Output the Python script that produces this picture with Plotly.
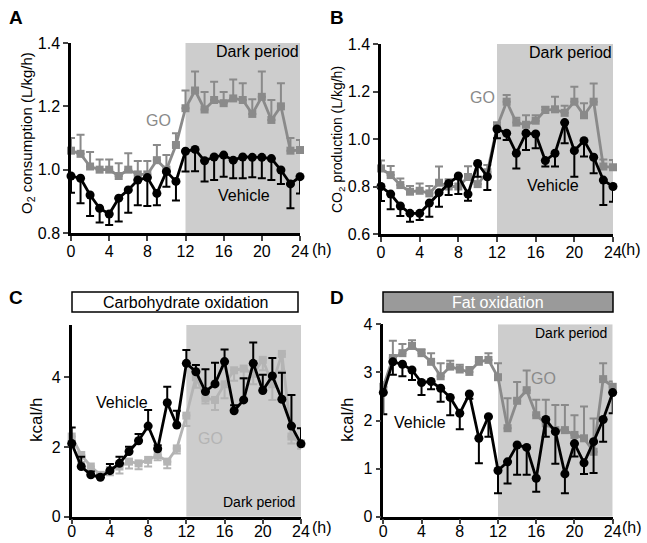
import plotly.graph_objects as go

hours = list(range(25))

# Panel A: O2 consumption
a_go = [1.06,1.05,1.01,1.00,1.00,0.98,1.00,0.985,0.985,1.03,1.00,1.078,1.194,1.25,1.19,1.22,1.21,1.225,1.22,1.176,1.23,1.157,1.20,1.06,1.062]
a_go_err = [0.04,0.06,0.046,0.032,0.032,0.04,0.052,0.042,0.042,0.048,0.046,0.037,0.056,0.06,0.055,0.058,0.035,0.06,0.053,0.046,0.08,0.063,0.073,0.04,0.032]
a_veh = [0.98,0.973,0.92,0.878,0.86,0.91,0.936,0.967,0.975,0.925,0.994,0.963,1.058,1.064,1.028,1.04,1.046,1.03,1.04,1.039,1.039,1.035,0.999,0.955,0.978]
a_veh_err = [0.053,0.079,0.066,0.045,0.035,0.074,0.072,0.079,0.09,0.037,0.048,0.06,0.064,0.069,0.065,0.073,0.068,0.057,0.067,0.063,0.066,0.068,0.044,0.077,0.053]

# Panel B: CO2 production
b_go = [0.876,0.848,0.806,0.778,0.782,0.771,0.816,0.80,0.80,0.84,0.81,0.86,1.05,1.157,1.069,1.06,1.077,1.122,1.125,1.11,1.157,1.10,1.157,0.884,0.881]
b_go_err = [0.033,0.038,0.028,0.024,0.031,0.031,0.068,0.03,0.03,0.045,0.08,0.03,0.02,0.028,0.021,0.04,0.023,0.014,0.053,0.03,0.063,0.05,0.077,0.03,0.031]
b_veh = [0.80,0.768,0.718,0.687,0.687,0.73,0.774,0.813,0.844,0.768,0.897,0.841,1.042,1.024,0.94,1.024,1.021,0.909,0.94,1.069,0.951,0.993,0.923,0.827,0.80]
b_veh_err = [0.061,0.064,0.042,0.035,0.028,0.057,0.059,0.049,0.076,0.028,0.056,0.056,0.039,0.028,0.064,0.07,0.06,0.025,0.056,0.087,0.11,0.067,0.067,0.105,0.064]

# Panel C: Carbohydrate oxidation
c_veh = [2.1,1.44,1.2,1.13,1.32,1.53,1.87,2.18,2.6,1.95,3.27,2.63,4.4,4.16,3.59,3.81,4.45,3.04,3.35,4.4,3.62,4.04,3.37,2.6,2.09]
c_veh_err = [0.46,0.28,0.1,0.07,0.19,0.19,0.14,0.19,0.46,0.1,0.46,0.41,0.38,0.19,0.64,0.61,0.35,0.16,0.62,0.6,0.45,0.51,0.76,0.89,0.45]
c_go = [2.3,1.77,1.44,1.2,1.34,1.44,1.58,1.53,1.63,1.77,1.58,1.96,2.9,4.0,3.4,3.35,3.8,4.2,4.25,4.1,4.5,3.8,4.67,2.3,2.1]
c_go_err = [0.3,0.2,0.15,0.1,0.15,0.2,0.2,0.17,0.19,0.15,0.19,0.15,0.3,0.3,0.15,0.29,0.4,0.3,0.3,0.3,0.3,0.45,0.5,0.2,0.15]

# Panel D: Fat oxidation
d_veh = [2.58,3.22,3.17,3.05,2.79,2.81,2.67,2.48,2.15,2.55,1.63,2.08,0.96,1.14,1.49,1.44,0.8,2.02,1.77,0.89,1.52,1.12,1.56,2.02,2.58]
d_veh_err = [0.45,0.27,0.25,0.21,0.26,0.16,0.28,0.37,0.33,0.1,0.52,0.42,0.47,0.45,0.62,0.57,0.28,0.36,0.67,0.4,0.27,0.23,0.65,0.46,0.43]
d_go = [2.7,3.3,3.4,3.55,3.4,3.22,2.92,3.12,3.06,3.01,3.22,3.26,2.9,1.84,2.41,2.63,2.11,1.94,1.8,1.8,1.7,1.63,1.35,2.86,2.7]
d_go_err = [0.1,0.36,0.19,0.12,0.08,0.18,0.27,0.12,0.1,0.1,0.1,0.14,0.29,0.62,0.39,0.41,0.32,0.49,0.52,0.52,0.41,0.66,0.69,0.33,0.11]

x_ticks = [0, 4, 8, 12, 16, 20, 24]
dark_start, dark_end = 12, 24

W, H = 647, 543
FONT = "Arial, Liberation Sans, sans-serif"
GO_GRAY = "#8a8a8a"
GO_LIGHT = "#b4b4b4"
SHADE = "#cdcdcd"

def px_x(p):
    return p / W

def px_y(p):
    return 1 - p / H

panels = [
    dict(xd=(71, 300), yd=(43, 233), yr=(0.8, 1.4), yt=[0.8, 1.0, 1.2, 1.4], fmt=".1f", so=-3),
    dict(xd=(381, 613), yd=(44, 234), yr=(0.6, 1.4), yt=[0.6, 0.8, 1.0, 1.2, 1.4], fmt=".1f", so=-3),
    dict(xd=(71.7, 301), yd=(325, 516.7), yr=(0, 5.5), yt=[0, 2, 4], fmt="d", so=-7),
    dict(xd=(383.3, 612.7), yd=(324.3, 516.7), yr=(0, 4), yt=[0, 1, 2, 3, 4], fmt="d", so=-7),
]

fig = go.Figure()
layout = dict(width=W, height=H, autosize=False, margin=dict(l=0, r=0, t=0, b=0, autoexpand=False),
              paper_bgcolor="white", plot_bgcolor="rgba(0,0,0,0)",
              showlegend=False, font=dict(family=FONT, color="black"))

shapes = []
for i, p in enumerate(panels):
    n = "" if i == 0 else str(i + 1)
    layout["xaxis" + n] = dict(domain=[px_x(p["xd"][0]), px_x(p["xd"][1])],
                               range=[0, 24], tickvals=x_ticks, ticks="outside",
                               ticklen=5, tickwidth=2, showline=True, linewidth=2.5,
                               linecolor="black", showgrid=False, zeroline=False,
                               anchor="y" + n, tickfont=dict(size=16, family=FONT),
                               ticklabelstandoff=p["so"],
                               fixedrange=True, automargin=False)
    layout["yaxis" + n] = dict(domain=[px_y(p["yd"][1]), px_y(p["yd"][0])],
                               range=list(p["yr"]), tickvals=p["yt"],
                               tickformat=p["fmt"], ticks="outside",
                               ticklen=5, tickwidth=2, showline=True, linewidth=2.5,
                               linecolor="black", showgrid=False, zeroline=False,
                               anchor="x" + n, tickfont=dict(size=16, family=FONT),
                               fixedrange=True, automargin=False)
    shapes.append(dict(type="rect", xref="x" + n, yref="y" + n,
                       x0=dark_start, x1=dark_end, y0=p["yr"][0], y1=p["yr"][1],
                       fillcolor=SHADE, line=dict(width=0), layer="below"))

def add_series(y, err, up, color, symbol, size, xa, ya):
    zeros = [0] * len(err)
    fig.add_trace(go.Scatter(
        x=hours, y=y, mode="lines+markers", xaxis=xa, yaxis=ya,
        line=dict(color=color, width=2.8),
        marker=dict(color=color, symbol=symbol, size=size),
        error_y=dict(type="data", symmetric=False,
                     array=err if up else zeros,
                     arrayminus=zeros if up else err,
                     color=color, thickness=2, width=4),
        cliponaxis=False))

add_series(a_go, a_go_err, True, GO_GRAY, "square", 8, "x", "y")
add_series(a_veh, a_veh_err, False, "black", "circle", 9, "x", "y")
add_series(b_go, b_go_err, True, GO_GRAY, "square", 8, "x2", "y2")
add_series(b_veh, b_veh_err, False, "black", "circle", 9, "x2", "y2")
add_series(c_go, c_go_err, False, GO_LIGHT, "square", 8, "x3", "y3")
add_series(c_veh, c_veh_err, True, "black", "circle", 9, "x3", "y3")
add_series(d_go, d_go_err, True, GO_GRAY, "square", 8, "x4", "y4")
add_series(d_veh, d_veh_err, False, "black", "circle", 9, "x4", "y4")

shapes.append(dict(type="rect", xref="paper", yref="paper",
                   x0=px_x(72), x1=px_x(298), y0=px_y(312), y1=px_y(292),
                   fillcolor="white", line=dict(color="black", width=1.5)))
shapes.append(dict(type="rect", xref="paper", yref="paper",
                   x0=px_x(383), x1=px_x(613), y0=px_y(312), y1=px_y(292),
                   fillcolor="#9a9a9a", line=dict(color="black", width=1.5)))

ann = []
def txt(x, y, s, size=15, color="black", bold=False, angle=0):
    ann.append(dict(xref="paper", yref="paper", x=px_x(x), y=px_y(y),
                    text=("<b>%s</b>" % s) if bold else s, showarrow=False,
                    font=dict(size=size, color=color, family=FONT),
                    xanchor="center", yanchor="middle", textangle=angle))

txt(16, 17, "A", 19, bold=True)
txt(337, 17, "B", 19, bold=True)
txt(16, 297, "C", 19, bold=True)
txt(337, 297, "D", 19, bold=True)

txt(27, 133, "O<sub>2</sub> consumption (L/kg/h)", 15, angle=-90)
txt(338, 140, "CO<sub>2</sub> production (L/kg/h)", 14, angle=-90)
txt(36, 420, "kcal/h", 17, angle=-90)
txt(347, 420, "kcal/h", 17, angle=-90)

txt(322, 249, "(h)", 16)
txt(631, 249, "(h)", 16)
txt(322, 527, "(h)", 16)
txt(632, 527, "(h)", 16)

txt(158, 121, "GO", 16, GO_GRAY)
txt(244, 195, "Vehicle", 16)
txt(482, 98, "GO", 16, GO_GRAY)
txt(553, 185, "Vehicle", 16)
txt(122, 402, "Vehicle", 16)
txt(210, 438, "GO", 16, GO_LIGHT)
txt(420, 422, "Vehicle", 16)
txt(543, 378, "GO", 16, GO_GRAY)

txt(257, 52, "Dark period", 16)
txt(570, 53, "Dark period", 16)
txt(259, 502, "Dark period", 14)
txt(571, 333, "Dark period", 14)

txt(185, 302, "Carbohydrate oxidation", 16)
txt(498, 302, "Fat oxidation", 16, "white")

layout["shapes"] = shapes
layout["annotations"] = ann
fig.update_layout(**layout)
fig.write_html("out.html", config={"displayModeBar": False},
               post_script="document.body.style.margin='0';document.body.style.padding='0';document.body.style.overflow='hidden';")
